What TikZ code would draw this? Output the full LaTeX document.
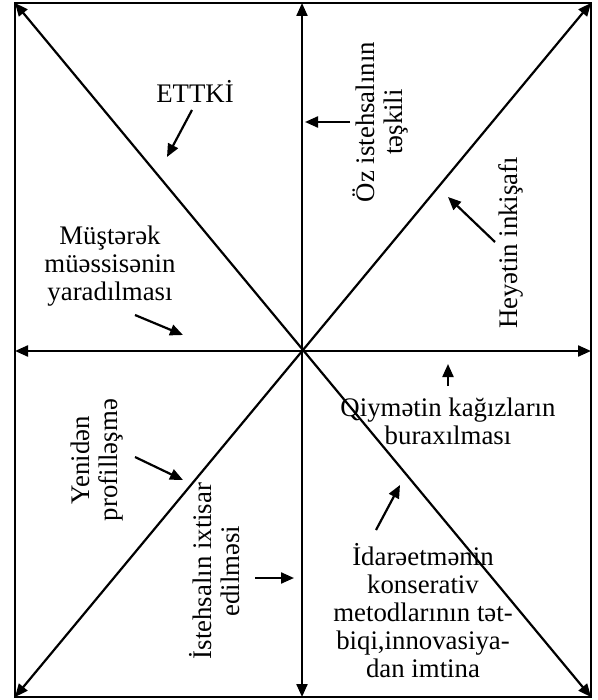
\documentclass[tikz,border=0pt]{standalone}
\usepackage{fontspec}
\setmainfont{Liberation Serif}
\usetikzlibrary{arrows.meta}
\begin{document}
\begin{tikzpicture}[x=0.5pt,y=-0.5pt,
  axis/.style={line width=1.1pt,{Triangle[length=6.5pt,width=5.5pt]}-{Triangle[length=6.5pt,width=5.5pt]}},
  pointer/.style={line width=1.1pt,-{Triangle[length=6.5pt,width=5.5pt]}},
  lbl/.style={inner sep=0pt,align=center,font=\fontsize{13.4pt}{14pt}\selectfont},
  vlbl/.style={lbl,rotate=90}]
\useasboundingbox (0,0) rectangle (598,700);
% outer frame
\draw[line width=1pt] (15,3) rectangle (591,697);
% corners and edge midpoints
\coordinate (tl) at (15,3);
\coordinate (tr) at (591,3);
\coordinate (bl) at (15,697);
\coordinate (br) at (591,697);
\coordinate (tm) at (302,3);
\coordinate (bm) at (302,697);
\coordinate (lm) at (15,351);
\coordinate (rm) at (591,351);
% axes through the centre
\draw[axis] (tm) -- (bm);
\draw[axis] (lm) -- (rm);
\draw[axis] (tl) -- (br);
\draw[axis] (bl) -- (tr);
% labels
\node[lbl] (ettki) at (195,91) {ETTK\.I};
\node[lbl] (muster) at (110,266) {Müştərək\\müəssisənin\\yaradılması};
\node[vlbl] (oz) at (380,122) {Öz istehsalının\\təşkili};
\node[vlbl] (heyet) at (511,243) {Heyətin inkişafı};
\node[vlbl] (yeniden) at (97,460) {Yenidən\\profilləşmə};
\node[vlbl] (ixtisar) at (215,571) {\.Istehsalın ixtisar\\edilməsi};
\node[lbl] (qiymet) at (448,421) {Qiymətin kağızların\\buraxılması};
\node[lbl] (idare) at (423,611) {\.Idarəetmənin\\konserativ\\metodlarının tət-\\biqi,innovasiya-\\dan imtina};
% pointer arrows
\coordinate (p1s) at (192,110); \coordinate (p1e) at (167,157);
\coordinate (p2s) at (135,315); \coordinate (p2e) at (183,335);
\coordinate (p3s) at (350,122); \coordinate (p3e) at (305,122);
\coordinate (p4s) at (495,242); \coordinate (p4e) at (448,197);
\coordinate (p5s) at (135,457); \coordinate (p5e) at (183,480);
\coordinate (p6s) at (255,578); \coordinate (p6e) at (294,578);
\coordinate (p7s) at (448,386); \coordinate (p7e) at (448,364);
\coordinate (p8s) at (376,530); \coordinate (p8e) at (400,485);
\draw[pointer] (p1s) -- (p1e);
\draw[pointer] (p2s) -- (p2e);
\draw[pointer] (p3s) -- (p3e);
\draw[pointer] (p4s) -- (p4e);
\draw[pointer] (p5s) -- (p5e);
\draw[pointer] (p6s) -- (p6e);
\draw[pointer] (p7s) -- (p7e);
\draw[pointer] (p8s) -- (p8e);
\end{tikzpicture}
\end{document}
